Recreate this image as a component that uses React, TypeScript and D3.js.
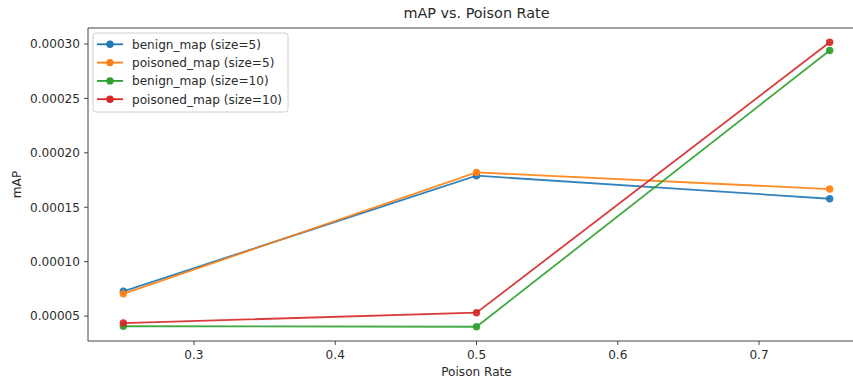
import React from "react";
import * as d3 from "d3";

const poisonRates = [0.25, 0.5, 0.75];
const benign5 = [0.0000728, 0.000179, 0.0001578];
const poisoned5 = [0.0000705, 0.000182, 0.0001667];
const benign10 = [0.0000407, 0.0000402, 0.000294];
const poisoned10 = [0.0000436, 0.0000531, 0.0003016];
const seriesNames = [
  "benign_map (size=5)",
  "poisoned_map (size=5)",
  "benign_map (size=10)",
  "poisoned_map (size=10)",
];
const seriesColors = ["#1f77b4", "#ff7f0e", "#2ca02c", "#d62728"];
const xTicks = [0.3, 0.4, 0.5, 0.6, 0.7];
const yTicks = [0.00005, 0.0001, 0.00015, 0.0002, 0.00025, 0.0003];

const W = 853;
const H = 381;
const left = 88;
const right = 865;
const top = 28;
const bottom = 341;
const FONT = "DejaVu Sans, sans-serif";
const FS = 12.1;

export default function App() {
  const allSeries = [benign5, poisoned5, benign10, poisoned10];
  const allVals = allSeries.flat();
  const ymin = d3.min(allVals)!;
  const ymax = d3.max(allVals)!;
  const ypad = (ymax - ymin) * 0.05;
  const xpad = (0.75 - 0.25) * 0.05;
  const x = d3.scaleLinear().domain([0.25 - xpad, 0.75 + xpad]).range([left, right]);
  const y = d3.scaleLinear().domain([ymin - ypad, ymax + ypad]).range([bottom, top]);
  const line = d3
    .line<[number, number]>()
    .x((d) => x(d[0]))
    .y((d) => y(d[1]));
  const tickFmt = d3.format(".5f");
  const axisColor = "#444";
  const textColor = "#2a2a2a";
  const legX = 93;
  const legY = 33;
  const legRowH = 18.3;

  return (
    <svg
      width={W}
      height={H}
      style={{ position: "absolute", left: 0, top: 0, background: "#fff" }}
      fontFamily={FONT}
    >
      <rect x={0} y={0} width={W} height={H} fill="#fff" />
      <text x={(left + right) / 2} y={18} textAnchor="middle" fontSize={14.4} fill={textColor}>
        mAP vs. Poison Rate
      </text>
      {allSeries.map((s, i) => {
        const pts = poisonRates.map((r, j) => [r, s[j]] as [number, number]);
        return (
          <g key={i}>
            <path d={line(pts)!} fill="none" stroke={seriesColors[i]} strokeWidth={1.8} strokeOpacity={0.9} />
            {pts.map((p, j) => (
              <circle key={j} cx={x(p[0])} cy={y(p[1])} r={3.7} fill={seriesColors[i]} fillOpacity={0.92} />
            ))}
          </g>
        );
      })}
      <line x1={left} x2={left} y1={top} y2={bottom} stroke={axisColor} strokeWidth={1} />
      <line x1={left} x2={right} y1={bottom} y2={bottom} stroke={axisColor} strokeWidth={1} />
      <line x1={left} x2={right} y1={top} y2={top} stroke={axisColor} strokeWidth={1} />
      {xTicks.map((t) => (
        <g key={t}>
          <line x1={x(t)} x2={x(t)} y1={bottom} y2={bottom + 4} stroke={axisColor} />
          <text x={x(t)} y={bottom + 18} textAnchor="middle" fontSize={FS} fill={textColor}>
            {t.toFixed(1)}
          </text>
        </g>
      ))}
      {yTicks.map((t) => (
        <g key={t}>
          <line x1={left - 4} x2={left} y1={y(t)} y2={y(t)} stroke={axisColor} />
          <text x={left - 8} y={y(t) + 4.3} textAnchor="end" fontSize={FS} fill={textColor}>
            {tickFmt(t)}
          </text>
        </g>
      ))}
      <text x={(left + right) / 2} y={376} textAnchor="middle" fontSize={FS} fill={textColor}>
        Poison Rate
      </text>
      <text
        transform={`translate(21, ${(top + bottom) / 2}) rotate(-90)`}
        textAnchor="middle"
        fontSize={FS}
        fill={textColor}
      >
        mAP
      </text>
      <rect
        x={legX}
        y={legY}
        width={195}
        height={79}
        rx={3}
        fill="#fff"
        fillOpacity={0.8}
        stroke="#d0d0d0"
      />
      {seriesNames.map((n, i) => {
        const cy = legY + 11.3 + i * legRowH;
        return (
          <g key={n}>
            <line x1={97} x2={123} y1={cy} y2={cy} stroke={seriesColors[i]} strokeWidth={1.8} />
            <circle cx={110} cy={cy} r={3.7} fill={seriesColors[i]} />
            <text x={132} y={cy + 4.3} fontSize={FS} fill={textColor}>
              {n}
            </text>
          </g>
        );
      })}
    </svg>
  );
}
